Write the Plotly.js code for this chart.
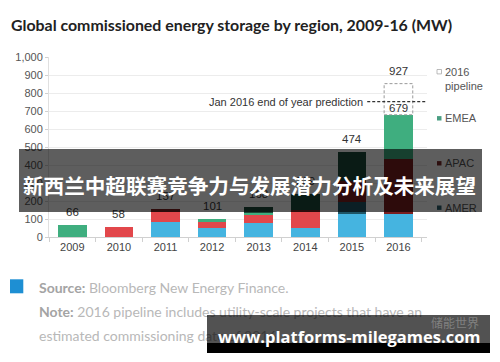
<!DOCTYPE html>
<html>
<head>
<meta charset="utf-8">
<script src="https://cdn.plot.ly/plotly-3.0.1.min.js"></script>
<style>html,body{margin:0;padding:0;background:#fff;}#chart{width:500px;height:362px;}</style>
</head>
<body>
<div id="chart"></div>
<script>
// ---- data ----
const years = ['2009', '2010', '2011', '2012', '2013', '2014', '2015', '2016'];
const lightBlue = [0, 0, 85, 52, 76, 52, 130, 130];
const darkTeal  = [0, 0, 0, 0, 0, 0, 64, 0];
const redSeg    = [0, 58, 55, 30, 48, 87, 0, 0];
const darkRed   = [0, 0, 17, 0, 0, 13, 117, 306];
const greenSeg  = [66, 0, 0, 19, 12, 0, 0, 243];
const darkGreen = [0, 0, 0, 0, 32, 87, 163, 0];
const pipeline  = [0, 0, 0, 0, 0, 0, 0, 173];
const totalLabels = ['66', '58', '157', '101', '168', '239', '474', '927'];
const solidLabel2016 = '679';
const predictionLevel = 752;
const yTickVals = [0, 100, 200, 300, 400, 500, 600, 700, 800, 900, 1000];
const legendNames = ['2016<br>pipeline', 'EMEA', 'APAC', 'AMER'];

// ---- geometry helpers (plot area in pixels) ----
const W = 500, H = 362;
const M = {l: 49, r: 73, t: 57, b: 125};
const PW = W - M.l - M.r, PH = H - M.t - M.b;
const px = x => (x - M.l) / PW;
const py = y => (H - M.b - y) / PH;
const bargap = 0.386;
const barW = 1 - bargap;

const segs = [
  {y: lightBlue, c: '#45b4e0', n: 'AMER (light)'},
  {y: darkTeal,  c: '#1e5566', n: 'AMER'},
  {y: redSeg,    c: '#e2474b', n: 'APAC (light)'},
  {y: darkRed,   c: '#7a1e20', n: 'APAC'},
  {y: greenSeg,  c: '#3fae7f', n: 'EMEA'},
  {y: darkGreen, c: '#1d4a39', n: 'EMEA (dark)'}
];
const traces = segs.map(s => ({
  type: 'bar', x: years, y: s.y, name: s.n,
  marker: {color: s.c, line: {width: 0}}, showlegend: false
}));
traces.push({type: 'bar', x: years, y: pipeline, name: '2016 pipeline',
  marker: {color: 'rgba(255,255,255,0)', line: {width: 0}}, showlegend: false});

const solidTot = years.map((_, i) => segs.reduce((a, s) => a + s.y[i], 0));
const drawnTot = years.map((_, i) => solidTot[i] + pipeline[i]);

const shapes = [];
// dashed outline for the pipeline segment
years.forEach((yr, i) => {
  if (pipeline[i] > 0) {
    shapes.push({type: 'rect', xref: 'x', yref: 'y', x0: i - barW / 2, x1: i + barW / 2,
      y0: solidTot[i], y1: drawnTot[i], line: {color: '#9a9a9a', width: 1, dash: '3px,2px'},
      fillcolor: 'rgba(0,0,0,0)', layer: 'above'});
  }
});
// prediction line
shapes.push({type: 'line', xref: 'x', yref: 'y', x0: 6.33, x1: 7.6, y0: predictionLevel, y1: predictionLevel,
  line: {color: '#333', width: 1.2, dash: '3px,2px'}, layer: 'above'});
// legend markers
const legColors = ['open', '#4a9e82', '#7a2a2b', '#2c5f6e'];
const legY = [71.7, 118.3, 163.3, 207.7];
legColors.forEach((c, i) => {
  shapes.push({type: 'rect', xref: 'paper', yref: 'paper',
    x0: px(437), x1: px(441.5), y0: py(legY[i] + 2.2), y1: py(legY[i] - 2.2),
    fillcolor: c === 'open' ? '#fff' : c, line: {color: c === 'open' ? '#aaa' : c, width: c === 'open' ? 0.8 : 0},
    layer: 'above'});
});
// footer blue square
shapes.push({type: 'rect', xref: 'paper', yref: 'paper', x0: px(10), x1: px(23.3), y0: py(293.3), y1: py(279.3),
  fillcolor: '#1e8fd3', line: {width: 0}, layer: 'above'});

const ann = [];
// value labels
years.forEach((yr, i) => {
  ann.push({xref: 'x', yref: 'y', x: i, y: drawnTot[i], text: totalLabels[i], showarrow: false,
    yanchor: 'bottom', yshift: 5, font: {family: 'Liberation Sans, Arial', size: 11.5, color: '#333'}});
});
ann.push({xref: 'x', yref: 'y', x: 7, y: solidTot[7], text: solidLabel2016, showarrow: false,
  yanchor: 'bottom', yshift: -1, font: {family: 'Liberation Sans, Arial', size: 11.5, color: '#333'}});
// prediction text
ann.push({xref: 'x', yref: 'y', x: 6.28, y: predictionLevel, text: 'Jan 2016 end of year prediction',
  showarrow: false, xanchor: 'right', yanchor: 'middle',
  font: {family: 'Liberation Sans, Arial', size: 11, color: '#333'}});
// legend texts
legendNames.forEach((t, i) => {
  ann.push({xref: 'paper', yref: 'paper', x: px(442.5), y: py(legY[i] - (i === 0 ? 7.5 : 0)),
    text: t, showarrow: false, xanchor: 'left', yanchor: i === 0 ? 'top' : 'middle', align: 'left',
    font: {family: 'Liberation Sans, Arial', size: 11, color: '#555'}});
});
// footer
const fFont = {family: 'Lato', size: 14, color: '#b8b8b8'};
ann.push({xref: 'paper', yref: 'paper', x: px(37.3), y: py(287.3), xanchor: 'left', yanchor: 'middle',
  showarrow: false, text: '<b style="color:#a4a4a4">Source:</b> Bloomberg New Energy Finance.', font: fFont});
ann.push({xref: 'paper', yref: 'paper', x: px(37.3), y: py(311), xanchor: 'left', yanchor: 'middle',
  showarrow: false, text: '<b style="color:#a4a4a4">Note:</b> 2016 pipeline includes utility-scale projects that have an', font: fFont});
ann.push({xref: 'paper', yref: 'paper', x: px(37.3), y: py(335), xanchor: 'left', yanchor: 'middle',
  showarrow: false, text: 'estimated commissioning date of 2016.', font: fFont});
// overlay banner
ann.push({xref: 'paper', yref: 'paper', x: px(19), y: py(149.3), xanchor: 'left', yanchor: 'top',
  width: 462.7, height: 63.4, borderpad: 0, borderwidth: 0, bgcolor: 'rgba(0,0,0,0.63)',
  text: '\u00a0', showarrow: false});
ann.push({xref: 'paper', yref: 'paper', x: px(249.5), y: py(185), xanchor: 'center', yanchor: 'middle',
  text: '<b>新西兰中超联赛竞争力与发展潜力分析及未来展望</b>', showarrow: false,
  font: {family: 'Noto Sans CJK SC', size: 20.6, color: '#fff'}});
// bottom watermark box
ann.push({xref: 'paper', yref: 'paper', x: px(207.3), y: py(315), xanchor: 'left', yanchor: 'top',
  width: 283.4, height: 28, borderpad: 0, borderwidth: 0, bgcolor: 'rgba(0,0,0,0.68)',
  text: '\u00a0', showarrow: false});
ann.push({xref: 'paper', yref: 'paper', x: px(207.3), y: py(343), xanchor: 'left', yanchor: 'top',
  width: 283.4, height: 9.7, borderpad: 0, borderwidth: 0, bgcolor: '#000',
  text: '\u00a0', showarrow: false});
ann.push({xref: 'paper', yref: 'paper', x: px(455), y: py(322), xanchor: 'center', yanchor: 'middle',
  text: '储能世界', showarrow: false,
  font: {family: 'Noto Sans CJK SC', size: 12, color: 'rgba(255,255,255,0.28)'}});
ann.push({xref: 'paper', yref: 'paper', x: px(349.3), y: py(336), xanchor: 'center', yanchor: 'middle',
  text: '<b>www.platforms-milegames.com</b>', showarrow: false,
  font: {family: 'Open Sans', size: 16.5, color: '#fff'}});

const layout = {
  width: W, height: H, margin: M,
  paper_bgcolor: '#fff', plot_bgcolor: '#fff',
  barmode: 'stack', bargap: bargap,
  showlegend: false,
  title: {text: '<b>Global commissioned energy storage by region, 2009-16 (MW)</b>',
    xref: 'container', yref: 'container', x: 11 / W, xanchor: 'left', y: 1 - 25 / H, yanchor: 'middle',
    font: {family: 'Lato', size: 15.9, color: '#222'}},
  xaxis: {type: 'category', showgrid: false, showline: true, linecolor: '#d0d0d0', linewidth: 1,
    ticks: 'outside', tickson: 'boundaries', ticklen: 4, tickcolor: '#d0d0d0',
    tickfont: {family: 'Liberation Sans, Arial', size: 11, color: '#444'}, fixedrange: true},
  yaxis: {range: [0, 1000], tickvals: yTickVals, tickformat: ',', showgrid: true, gridcolor: '#ececec',
    showline: true, linecolor: '#e0e0e0', zeroline: false, ticks: 'outside', ticklen: 3, tickcolor: '#d0d0d0',
    tickfont: {family: 'Liberation Sans, Arial', size: 11, color: '#555'}, fixedrange: true},
  shapes: shapes,
  annotations: ann
};
Plotly.newPlot('chart', traces, layout, {displayModeBar: false, staticPlot: true});
</script>
</body>
</html>
